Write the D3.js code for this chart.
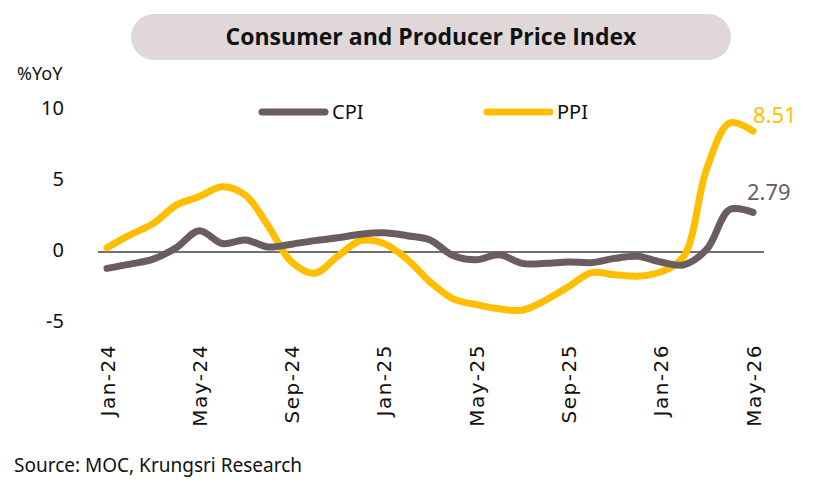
<!DOCTYPE html>
<html>
<head>
<meta charset="utf-8">
<script src="https://cdn.jsdelivr.net/npm/d3@7"></script>
<style>
  html, body { margin: 0; padding: 0; background: #fff; }
  #chart { width: 840px; height: 498px; }
  text { font-family: "Noto Sans", "Open Sans", sans-serif; }
</style>
</head>
<body>
<div id="chart"></div>
<script>
const months = ["Jan-24","Feb-24","Mar-24","Apr-24","May-24","Jun-24","Jul-24","Aug-24","Sep-24","Oct-24","Nov-24","Dec-24",
  "Jan-25","Feb-25","Mar-25","Apr-25","May-25","Jun-25","Jul-25","Aug-25","Sep-25","Oct-25","Nov-25","Dec-25",
  "Jan-26","Feb-26","Mar-26","Apr-26","May-26"];
const cpi = [-1.15, -0.85, -0.5, 0.3, 1.5, 0.6, 0.85, 0.35, 0.55, 0.8, 1.0, 1.25,
  1.35, 1.15, 0.85, -0.25, -0.55, -0.2, -0.8, -0.8, -0.7, -0.75, -0.45, -0.3,
  -0.7, -0.9, 0.2, 3.0, 2.79];
const ppi = [0.3, 1.2, 2.0, 3.3, 3.9, 4.6, 4.0, 1.8, -0.7, -1.5, -0.3, 0.8,
  0.6, -0.5, -2.1, -3.3, -3.7, -4.0, -4.1, -3.4, -2.45, -1.45, -1.6, -1.7,
  -1.4, -0.3, 5.9, 9.1, 8.51];
const yTicks = [-5, 0, 5, 10];
const xTickLabels = ["Jan-24","May-24","Sep-24","Jan-25","May-25","Sep-25","Jan-26","May-26"];

const W = 840, H = 498;
const svg = d3.select("#chart").append("svg")
  .attr("width", W).attr("height", H)
  .attr("viewBox", `0 0 ${W} ${H}`);

const x = d3.scalePoint().domain(months).range([107, 753]);
const y = d3.scaleLinear().domain([-5, 10]).range([323, 110]);

// title pill
svg.append("rect")
  .attr("x", 131).attr("y", 14).attr("width", 600).attr("height", 46)
  .attr("rx", 23).attr("fill", "#e0d8d8");
svg.append("text")
  .attr("x", 431).attr("y", 45)
  .attr("text-anchor", "middle")
  .style("font-size", "23px").style("font-weight", "bold")
  .style("font-family", "'Open Sans', sans-serif")
  .attr("fill", "#111")
  .text("Consumer and Producer Price Index");

svg.append("text")
  .attr("x", 17).attr("y", 80)
  .style("font-size", "18px").attr("fill", "#111")
  .text("%YoY");

// y axis (labels only)
svg.append("g")
  .attr("transform", "translate(64,0)")
  .call(d3.axisLeft(y).tickValues(yTicks).tickFormat(d => String(d)).tickSize(0).tickPadding(0))
  .call(g => g.select(".domain").remove())
  .selectAll("text")
  .style("font-size", "20px")
  .style("font-family", "'Noto Sans', sans-serif")
  .attr("fill", "#111")
  .attr("dy", "0.2em");

// zero line
svg.append("line")
  .attr("x1", 98).attr("x2", 764)
  .attr("y1", y(0)).attr("y2", y(0))
  .attr("stroke", "#404040").attr("stroke-width", 1.5);

// x axis labels
svg.append("g")
  .attr("transform", "translate(0,344)")
  .call(d3.axisBottom(x).tickValues(xTickLabels).tickSize(0).tickPadding(0))
  .call(g => g.select(".domain").remove())
  .selectAll("text")
  .attr("transform", "rotate(-90)")
  .attr("x", 0).attr("y", 0).attr("dy", "0.35em")
  .style("text-anchor", "end")
  .style("font-size", "20px")
  .style("letter-spacing", "1.5px")
  .style("font-family", "'DejaVu Sans', sans-serif")
  .attr("fill", "#111");

const line = d3.line()
  .x((d, i) => x(months[i]))
  .y(d => y(d))
  .curve(d3.curveCatmullRom.alpha(0.5));

const cpiColor = "#6b5c60", ppiColor = "#ffbf00";

svg.append("path").datum(ppi)
  .attr("d", line).attr("fill", "none")
  .attr("stroke", ppiColor).attr("stroke-width", 7)
  .attr("stroke-linecap", "round").attr("stroke-linejoin", "round");
svg.append("path").datum(cpi)
  .attr("d", line).attr("fill", "none")
  .attr("stroke", cpiColor).attr("stroke-width", 7)
  .attr("stroke-linecap", "round").attr("stroke-linejoin", "round");

// end labels
const last = months.length - 1;
svg.append("text")
  .attr("x", x(months[last])).attr("y", y(ppi[last]) - 8)
  .style("font-size", "22px").attr("fill", ppiColor)
  .text(ppi[last].toFixed(2));
svg.append("text")
  .attr("x", x(months[last]) - 6).attr("y", y(cpi[last]) - 12)
  .style("font-size", "22px").attr("fill", cpiColor)
  .text(cpi[last].toFixed(2));

// legend
const legend = [
  { name: "CPI", color: cpiColor, x: 262 },
  { name: "PPI", color: ppiColor, x: 487 }
];
legend.forEach(l => {
  svg.append("line")
    .attr("x1", l.x).attr("x2", l.x + 63)
    .attr("y1", 112).attr("y2", 112)
    .attr("stroke", l.color).attr("stroke-width", 7)
    .attr("stroke-linecap", "round");
  svg.append("text")
    .attr("x", l.x + 70).attr("y", 119)
    .style("font-size", "20px").attr("fill", "#111")
    .text(l.name);
});

svg.append("text")
  .attr("x", 14).attr("y", 472)
  .style("font-size", "19px").attr("fill", "#111")
  .text("Source: MOC, Krungsri Research");
</script>
</body>
</html>
